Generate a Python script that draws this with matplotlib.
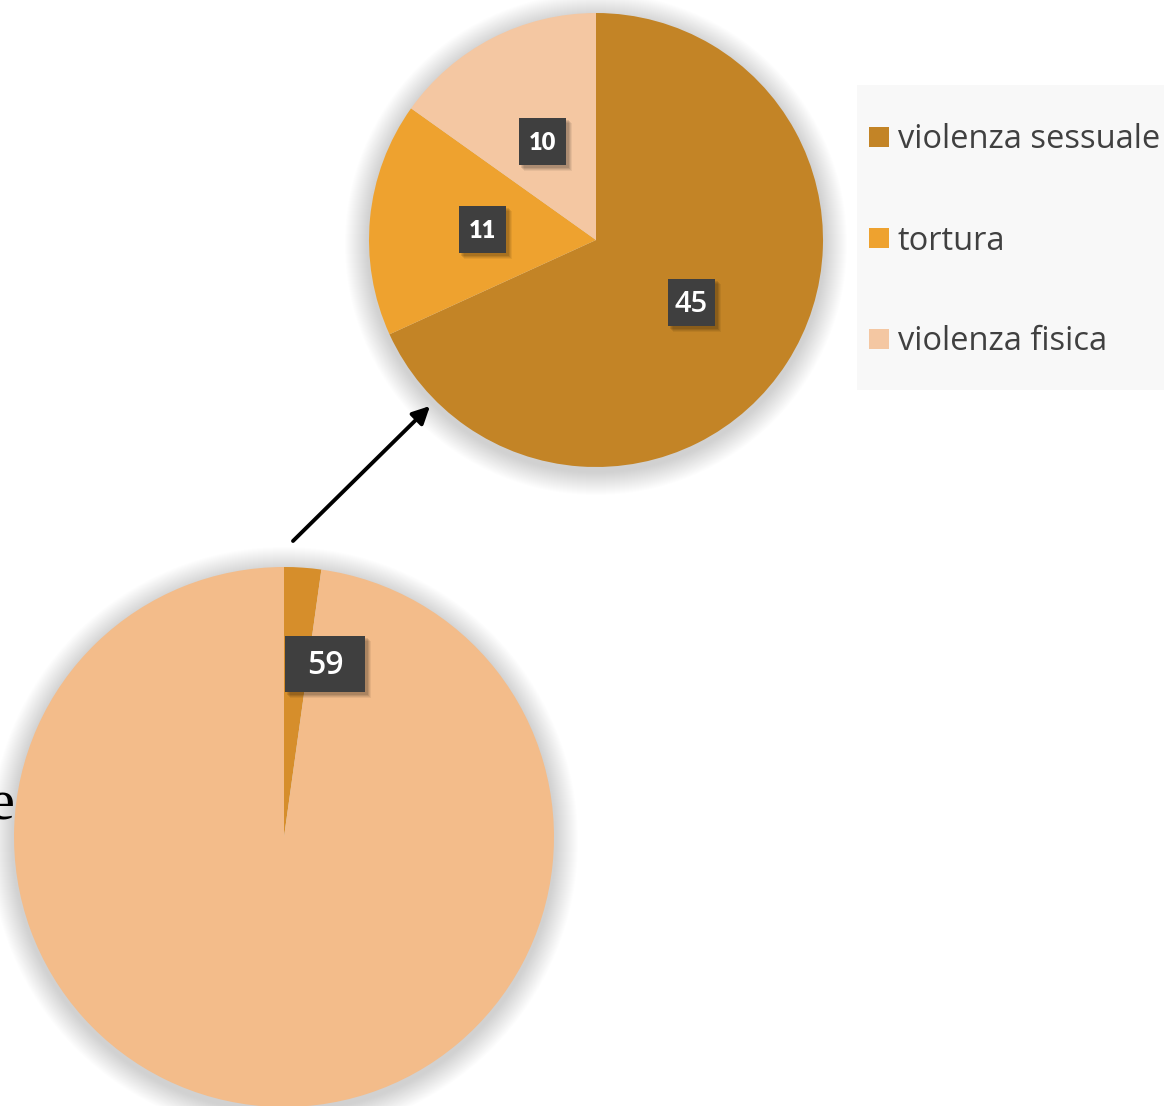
import matplotlib
matplotlib.use('Agg')
import matplotlib.pyplot as plt
from matplotlib.patches import Rectangle, Circle

# ---- data ----
categories = ['violenza sessuale', 'tortura', 'violenza fisica']
values = [45, 11, 10]
colors = ['#C38426', '#EEA22F', '#F4C7A2']

main_values = [59, 2610]          # small slice (labelled 59) and the rest
main_colors = ['#D68E2B', '#F3BC8A']

W, H = 1164, 1106
fig = plt.figure(figsize=(W / 100, H / 100), dpi=100)
ax = fig.add_axes([0, 0, 1, 1])

def Y(y):
    return H - y

def shadow(cx, cy, r, spread=24, alpha=0.008, dy=4):
    for k in range(spread, 0, -1):
        ax.add_patch(Circle((cx, cy - dy), r + k, fc='#555555', ec='none',
                            alpha=alpha, zorder=1))

# pies
top_c, top_r = (596, Y(240)), 227
bot_c, bot_r = (284, Y(837)), 270

shadow(*bot_c, bot_r)
shadow(*top_c, top_r)

ax.pie(main_values, colors=main_colors, startangle=90, counterclock=False,
       center=bot_c, radius=bot_r, wedgeprops=dict(linewidth=0, zorder=2))
ax.pie(values, colors=colors, startangle=90, counterclock=False,
       center=top_c, radius=top_r, wedgeprops=dict(linewidth=0, zorder=2))

ax.set_xlim(0, W)
ax.set_ylim(0, H)
ax.set_aspect('auto')
ax.axis('off')

# data labels
def label_box(cx, cy, w, h, text, size, weight, family):
    for k, a in [(6, 0.06), (5, 0.07), (4, 0.09), (3, 0.10)]:
        ax.add_patch(Rectangle((cx - w / 2 + k - 1, Y(cy) - h / 2 - k), w + 1, h + 1,
                               fc='#000000', alpha=a, ec='none', zorder=5))
    ax.add_patch(Rectangle((cx - w / 2, Y(cy) - h / 2), w, h,
                           fc='#3F3F3F', ec='none', zorder=6))
    ax.text(cx, Y(cy) - 2, text, ha='center', va='center', color='white',
            fontsize=size, fontweight=weight, family=family, zorder=7)

label_box(542, 141, 47, 47, str(values[2]), 17, 'heavy', 'Lato')
label_box(482, 229, 47, 47, str(values[1]), 17, 'heavy', 'Lato')
label_box(691, 302, 47, 47, str(values[0]), 21, 'semibold', 'Open Sans')
label_box(325, 664, 80, 56, str(main_values[0]), 23, 'semibold', 'Open Sans')

# arrow
ax.annotate('', xy=(430, Y(406)), xytext=(293, Y(541)),
            arrowprops=dict(arrowstyle='-|>', lw=2.8, color='black',
                            mutation_scale=26, shrinkA=0, shrinkB=0),
            zorder=8)

# clipped text at left edge (as in the reference)
ax.text(15, Y(805), 'e', ha='right', va='center', fontsize=42,
        family='Liberation Serif', color='black', zorder=8)

# legend
ax.add_patch(Rectangle((857, Y(390)), 310, 305, fc='#F8F8F8', ec='none', zorder=3))
ys = [137, 238, 339]
for cat, col, yy in zip(categories, colors, ys):
    ax.add_patch(Rectangle((869, Y(yy) - 10), 20, 20, fc=col, ec='none', zorder=4))
    ax.text(898, Y(yy) - 3, cat, ha='left', va='center', fontsize=23.5,
            family='Open Sans', color='#404040', zorder=4)

fig.savefig('out.png', dpi=100, facecolor='white')
